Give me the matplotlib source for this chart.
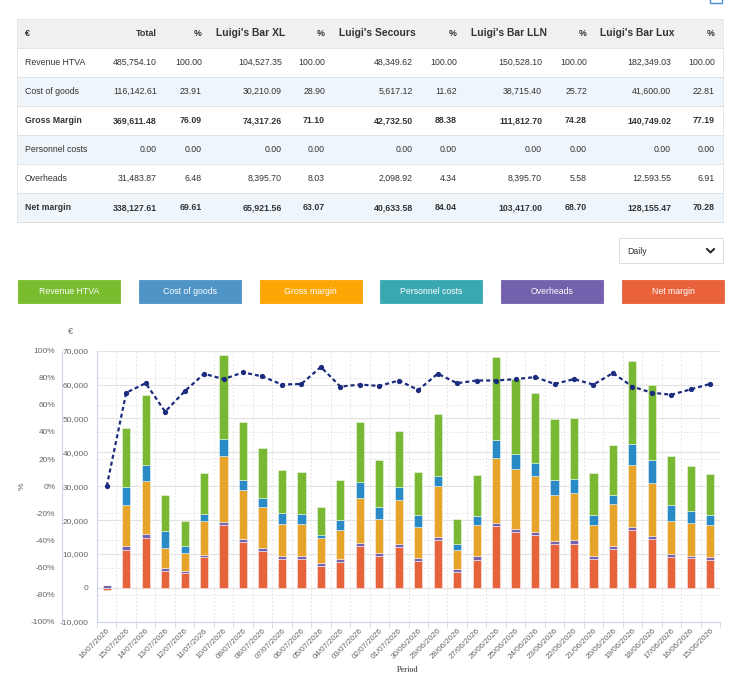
import numpy as np
import matplotlib
matplotlib.use("Agg")
import matplotlib.pyplot as plt
from matplotlib.patches import Rectangle
from matplotlib.lines import Line2D
from matplotlib.ticker import FuncFormatter

plt.rcParams["font.family"] = ["Liberation Sans", "DejaVu Sans"]

# ---- summary table ----
row_labels = ["Revenue HTVA", "Cost of goods", "Gross Margin", "Personnel costs", "Overheads", "Net margin"]
venues = ["Total", "Luigi's Bar XL", "Luigi's Secours", "Luigi's Bar LLN", "Luigi's Bar Lux"]
total_eur = [485754.10, 116142.61, 369611.48, 0.00, 31483.87, 338127.61]
total_pct = [100.00, 23.91, 76.09, 0.00, 6.48, 69.61]
xl_eur = [104527.35, 30210.09, 74317.26, 0.00, 8395.70, 65921.56]
xl_pct = [100.00, 28.90, 71.10, 0.00, 8.03, 63.07]
secours_eur = [48349.62, 5617.12, 42732.50, 0.00, 2098.92, 40633.58]
secours_pct = [100.00, 11.62, 88.38, 0.00, 4.34, 84.04]
lln_eur = [150528.10, 38715.40, 111812.70, 0.00, 8395.70, 103417.00]
lln_pct = [100.00, 25.72, 74.28, 0.00, 5.58, 68.70]
lux_eur = [182349.03, 41600.00, 140749.02, 0.00, 12593.55, 128155.47]
lux_pct = [100.00, 22.81, 77.19, 0.00, 6.91, 70.28]

# ---- daily chart ----
dates = ["16/07/2026", "15/07/2026", "14/07/2026", "13/07/2026", "12/07/2026", "11/07/2026",
         "10/07/2026", "09/07/2026", "08/07/2026", "07/07/2026", "06/07/2026", "05/07/2026",
         "04/07/2026", "03/07/2026", "02/07/2026", "01/07/2026", "30/06/2026", "29/06/2026",
         "28/06/2026", "27/06/2026", "26/06/2026", "25/06/2026", "24/06/2026", "23/06/2026",
         "22/06/2026", "21/06/2026", "20/06/2026", "19/06/2026", "18/06/2026", "17/06/2026",
         "16/06/2026", "15/06/2026"]
revenue = [0, 17500, 20650, 10800, 7300, 12000, 24600, 17300, 14750, 12600, 12400, 8300,
           11600, 17900, 13760, 16700, 12580, 18090, 7400, 12000, 24480, 22020, 20440, 17990,
           18090, 12290, 14940, 24480, 22220, 14550, 13170, 12190]
cost_of_goods = [0, 5300, 4900, 4900, 2200, 2200, 5200, 2850, 2850, 3150, 3050, 1000,
                 3050, 4620, 3540, 3740, 3640, 3040, 1750, 2750, 5310, 4520, 3930, 4230,
                 4030, 2950, 2550, 6390, 6780, 4620, 3630, 2950]
personnel = [0] * 32
overheads = [700, 1000, 1000, 800, 800, 800, 900, 1000, 900, 900, 900, 900,
             900, 900, 900, 880, 900, 900, 880, 890, 880, 880, 880, 890,
             980, 880, 880, 880, 890, 880, 880, 890]
margin_pct = [0, 69, 76, 55, 70, 83, 79, 84, 81, 75, 75.5, 88,
              73.5, 75, 74, 78, 71, 83, 76, 78, 78, 79, 80.5, 75.5,
              79, 75, 83.5, 73.5, 69, 67.5, 71.5, 75.5]

buttons = ["Revenue HTVA", "Cost of goods", "Gross margin", "Personnel costs", "Overheads", "Net margin"]
button_colors = ["#79bc2d", "#4f94c6", "#fba605", "#3aa8b0", "#7361ad", "#ea623b"]

W, H = 750, 681
fig = plt.figure(figsize=(W / 100, H / 100), dpi=100)


def fp(x, y):
    return x / W, 1 - y / H


def box(x0, y0, x1, y1, **kw):
    fig.add_artist(Rectangle(fp(x0, y1), (x1 - x0) / W, (y1 - y0) / H,
                             transform=fig.transFigure, **kw))


def hline(x0, x1, y, **kw):
    fig.add_artist(Line2D([x0 / W, x1 / W], [1 - y / H, 1 - y / H],
                          transform=fig.transFigure, **kw))


def txt(x, y, s, **kw):
    kw.setdefault("color", "#333333")
    kw.setdefault("va", "center")
    fig.text(x / W, 1 - y / H, s, **kw)


# table backgrounds
row_tops = [48.3, 77.3, 106.3, 135.3, 164.3, 193.3, 222.3]
box(17, 19.3, 723, 48.3, facecolor="#f0f0f0", edgecolor="none")
for i in range(6):
    fc = "#eef5fb" if i % 2 == 1 else "white"
    box(17, row_tops[i], 723, row_tops[i + 1], facecolor=fc, edgecolor="none")
for y in row_tops:
    hline(17, 723, y, color="#dedede", lw=0.6)
box(17, 19.3, 723, 222.3, facecolor="none", edgecolor="#e4e4e4", lw=0.6)

# top-right icon (partially visible)
box(710, -6, 722, 3, facecolor="none", edgecolor="#4a8fd6", lw=1.0)

eur_x = [157, 282, 413, 542, 671]
pct_x = [202, 325, 457, 587, 715]
name_x = [157, 285, 416, 547, 675]

txt(25, 33.5, "€", weight="bold", size=6.5, ha="left")
for k, name in enumerate(venues):
    size = 6.4 if k == 0 else 7.4
    txt(name_x[k], 32.8 if k else 33.5, name, weight="bold", size=size, ha="right")
    txt(pct_x[k], 33.8, "%", weight="bold", size=6.4, ha="right")

tables = [(total_eur, total_pct), (xl_eur, xl_pct), (secours_eur, secours_pct),
          (lln_eur, lln_pct), (lux_eur, lux_pct)]
for i, lab in enumerate(row_labels):
    yc = (row_tops[i] + row_tops[i + 1]) / 2
    wt = "bold" if i in (2, 5) else "normal"
    txt(25, yc, lab, size=6.3, weight=wt, ha="left")
    for k, (eur, pct) in enumerate(tables):
        txt(eur_x[k], yc, f"{eur[i]:,.2f}", size=6.3, weight=wt, ha="right")
        txt(pct_x[k], yc, f"{pct[i]:.2f}", size=6.3, weight=wt, ha="right")

# period dropdown
box(619, 238, 723, 263, facecolor="white", edgecolor="#dddddd", lw=0.7)
txt(627, 251, "Daily", size=6.3, ha="left")
fig.add_artist(Line2D([707 / W, 710.5 / W, 714 / W],
                      [1 - 249 / H, 1 - 252.5 / H, 1 - 249 / H],
                      transform=fig.transFigure, color="#222222", lw=1.4))

# legend buttons
for k, (lab, col) in enumerate(zip(buttons, button_colors)):
    x0 = 18 + k * 120.8
    box(x0, 280, x0 + 102, 303, facecolor=col, edgecolor=col, lw=0.6)
    txt(x0 + 51, 292, lab, size=6.3, color="white", ha="center")

# ---- chart axes ----
pos = [97 / W, 1 - 621.7 / H, (720 - 97) / W, (621.7 - 350.7) / H]
n = len(dates)
x = np.arange(n)

ax_pct = fig.add_axes(pos, zorder=0)
ax_pct.set_xlim(-0.5, n - 0.5)
ax_pct.set_ylim(-100, 100)
ax_pct.set_yticks(range(-100, 101, 20))
ax_pct.yaxis.set_major_formatter(FuncFormatter(lambda v, p: f"{v:.0f}%"))
ax_pct.set_xticks([])
for s in ["top", "right", "bottom"]:
    ax_pct.spines[s].set_visible(False)
ax_pct.spines["left"].set_position(("outward", 25))
ax_pct.spines["left"].set_color("#ccd6eb")
ax_pct.tick_params(axis="y", length=0, labelsize=6, labelcolor="#666666", pad=5)
ax_pct.grid(axis="y", color="#e6e6e6", lw=0.7, ls=(0, (1.5, 1.5)))
ax_pct.set_ylabel("%", fontsize=6, color="#666666", labelpad=4)

ax = fig.add_axes(pos, zorder=1)
ax.patch.set_alpha(0)

gross = np.array(revenue) - np.array(cost_of_goods)
net = gross - np.array(personnel) - np.array(overheads)
stack = [(net, "#e6633c"), (personnel, "#3aa8b0"), (overheads, "#7663b0"),
         (gross, "#e6a52a"), (cost_of_goods, "#2a8ac6"), (revenue, "#78b832")]
pos_bottom = np.zeros(n)
neg_bottom = np.zeros(n)
for vals, col in stack:
    vals = np.asarray(vals, dtype=float)
    bottom = np.where(vals >= 0, pos_bottom, neg_bottom)
    ax.bar(x, vals, 0.42, bottom=bottom, color=col,
           edgecolor=(1, 1, 1, 0.45), linewidth=0.7, zorder=2)
    pos_bottom += np.where(vals >= 0, vals, 0)
    neg_bottom += np.where(vals < 0, vals, 0)

ax.set_xlim(-0.5, n - 0.5)
ax.set_ylim(-10000, 70000)
ax.set_yticks(range(-10000, 70001, 10000))
ax.yaxis.set_major_formatter(FuncFormatter(lambda v, p: f"{v:,.0f}"))
ax.set_xticks(x)
ax.set_xticklabels(dates, rotation=45, ha="right", rotation_mode="anchor")
ax.set_xticks(np.arange(n + 1) - 0.5, minor=True)
ax.tick_params(axis="y", length=0, labelsize=6, labelcolor="#666666", pad=6)
ax.tick_params(axis="x", which="major", length=0, labelsize=5.8, labelcolor="#666666", pad=4)
ax.tick_params(axis="x", which="minor", length=4, color="#ccd6eb")
ax.grid(axis="y", color="#e2e2e2", lw=0.8, zorder=0)
ax.grid(axis="x", which="minor", color="#e6e6e6", lw=0.7, ls=(0, (2, 2)), zorder=0)
ax.set_axisbelow(True)
for s in ["top", "right"]:
    ax.spines[s].set_visible(False)
ax.spines["left"].set_color("#ccd6eb")
ax.spines["bottom"].set_color("#ccd6eb")

ax_line = fig.add_axes(pos, zorder=2)
ax_line.patch.set_alpha(0)
ax_line.set_xlim(-0.5, n - 0.5)
ax_line.set_ylim(-100, 100)
ax_line.axis("off")
ax_line.plot(x, margin_pct, color="#1b2b7d", lw=1.6, dashes=(1.8, 1.35),
             marker="o", ms=3.8, markeredgewidth=0)

txt(70, 331, "€", size=6.5, color="#666666", ha="center")
txt(408, 670, "Period", size=5.5, color="#666666", ha="center",
    family="Liberation Serif", weight="bold")

fig.savefig("out.png", dpi=100)
